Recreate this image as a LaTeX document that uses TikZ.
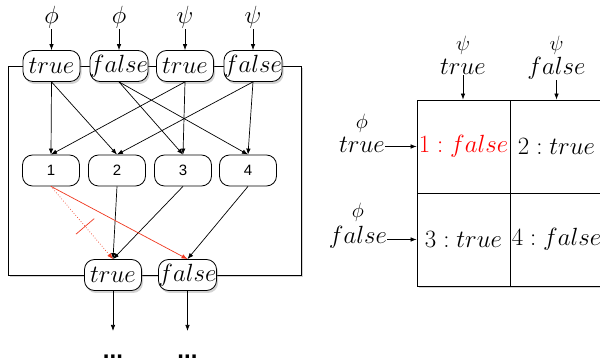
\documentclass[tikz,border=0pt]{standalone}
\usepackage{fontspec}
\newfontfamily\numfont{Liberation Sans}
\usetikzlibrary{arrows.meta,shadows,calc}
\definecolor{edgered}{RGB}{240,55,30}
\begin{document}
\begin{tikzpicture}[x=1pt,y=-1pt,
  every node/.style={font=\fontsize{24.88}{30}\selectfont},
  box/.style={draw,fill=white,rounded corners=10pt,minimum width=57pt,
    minimum height=31pt,inner sep=0pt,line width=0.8pt},
  shbox/.style={box,drop shadow={shadow xshift=1.5pt,shadow yshift=-2.5pt,opacity=0.35}},
  numbox/.style={box,font=\numfont\fontsize{15}{18}\selectfont},
  lbl/.style={inner sep=1pt},
  tlbl/.style={inner sep=0pt,anchor=base},
  small/.style={tlbl,font=\fontsize{20.74}{24}\selectfont},
  cell/.style={draw,minimum width=93pt,minimum height=93pt,inner sep=0pt,line width=0.8pt},
  arr/.style={-{Latex[length=6pt,width=4.5pt]},line width=0.7pt},
  dots/.style={font=\numfont\bfseries\fontsize{24}{28}\selectfont,inner sep=0pt,anchor=base}]
\useasboundingbox (0,0) rectangle (600,363);

% ---------- left: the circuit ----------
\draw[line width=0.8pt,fill=white,drop shadow={shadow xshift=1.5pt,shadow yshift=-2.5pt,opacity=0.35}]
  (8,66) rectangle (301,275);

\node[shbox] (a1) at (51.5,66) {$true$};
\node[shbox] (a2) at (119,66)  {$false$};
\node[shbox] (a3) at (185,66)  {$true$};
\node[shbox] (a4) at (253,66)  {$false$};

\node[lbl] (l1) at (51.5,17) {$\phi$};
\node[lbl] (l2) at (119,17)  {$\phi$};
\node[lbl] (l3) at (185,17)  {$\psi$};
\node[lbl] (l4) at (253,17)  {$\psi$};
\foreach \i in {1,...,4} \draw[arr] (l\i.south) -- (a\i.north);

\node[numbox] (m1) at (51,170.5)  {1};
\node[numbox] (m2) at (117,170.5) {2};
\node[numbox] (m3) at (183,170.5) {3};
\node[numbox] (m4) at (248,170.5) {4};

\draw[arr] (a1.south) -- (m1.north);
\draw[arr] (a1.south) -- (m2.north);
\draw[arr] (a2.south) -- (m3.north);
\draw[arr] (a2.south) -- (m4.north);
\draw[arr] (a3.south) -- (m1.north);
\draw[arr] (a3.south) -- (m3.north);
\draw[arr] (a4.south) -- (m2.north);
\draw[arr] (a4.south) -- (m4.north);

\node[shbox] (bt) at (113,275)   {$true$};
\node[shbox] (bf) at (187.5,275) {$false$};

\draw[arr] (m2.south) -- (bt.north);
\draw[arr] (m3.south) -- (bt.north);
\draw[arr] (m4.south) -- (bf.north);
\draw[arr,edgered] (m1.south) -- (bf.north);
\draw[arr,edgered,dotted] (m1.south) -- (bt.north);
\coordinate (cut) at ($(m1.south)!0.55!(bt.north)$);
\draw[edgered,line width=0.7pt] ($(cut)!12pt!90:(bt.north)$) -- ($(cut)!12pt!-90:(bt.north)$);

\coordinate (e1) at (113,331);
\coordinate (e2) at (187.5,331);
\draw[arr] (bt.south) -- (e1);
\draw[arr] (bf.south) -- (e2);
\node[dots] (d1) at (113,359)   {...};
\node[dots] (d2) at (187.5,359) {...};

% ---------- right: the table ----------
\draw[line width=0.8pt,fill=white,drop shadow={shadow xshift=1.5pt,shadow yshift=-2.5pt,opacity=0.35}]
  (417,100) rectangle (603,286);
\node[cell] (c1) at (463.5,146.5) {\textcolor{red}{$1:false$}};
\node[cell] (c2) at (556.5,146.5) {$2:true$};
\node[cell] (c3) at (463.5,239.5) {$3:true$};
\node[cell] (c4) at (556.5,239.5) {$4:false$};

\node[small] (p1) at (463,51)   {$\psi$};
\node[tlbl]  (t1) at (463,75)   {$true$};
\node[small] (p2) at (556.5,51) {$\psi$};
\node[tlbl]  (t2) at (556.5,75) {$false$};
\draw[arr] (t1.south) -- (t1.south |- c1.north);
\draw[arr] (t2.south) -- (t2.south |- c2.north);

\node[small] (f1) at (362,129) {$\phi$};
\node[tlbl]  (s1) at (362,153) {$true$};
\node[small] (f2) at (358,218) {$\phi$};
\node[tlbl]  (s2) at (358,244) {$false$};
\draw[arr] (s1.east |- c1.west) -- (c1.west);
\draw[arr] (s2.east |- c3.west) -- (c3.west);
\end{tikzpicture}
\end{document}
